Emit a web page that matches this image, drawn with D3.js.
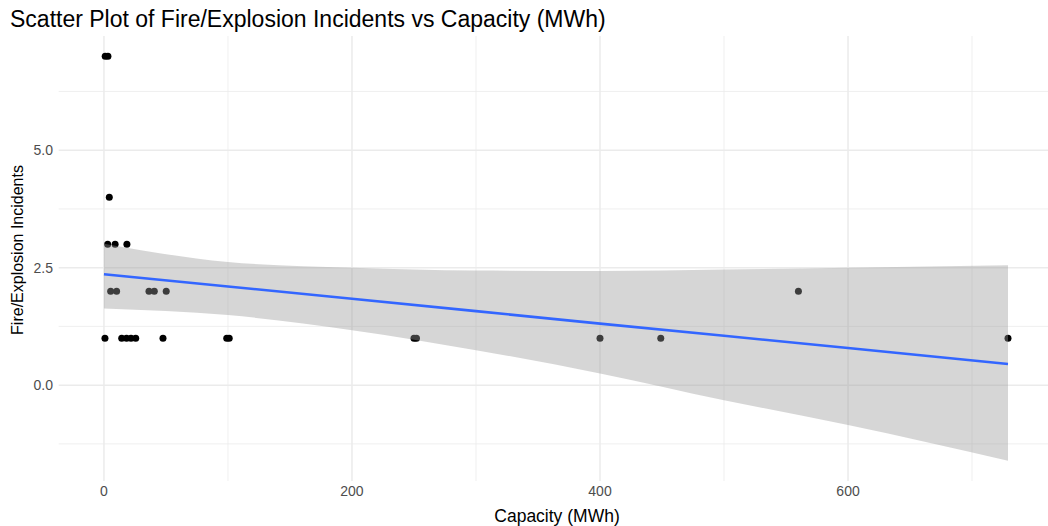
<!DOCTYPE html>
<html>
<head>
<meta charset="utf-8">
<script src="https://cdn.jsdelivr.net/npm/d3@7"></script>
<style>
  body { margin: 0; background: #fff; }
  text { font-family: "Liberation Sans", Arial, sans-serif; }
</style>
</head>
<body>
<div id="chart"></div>
<script>
// points
var capacity  = [1, 3.2, 4.3, 3, 9, 18.5, 5.4, 10.2, 36.3, 40.6, 50.2, 0.8, 14.3, 18.2, 21.8, 25.6, 47.6, 99, 101, 250, 252, 400, 449, 560, 729];
var incidents = [7, 7, 4, 3, 3, 3, 2, 2, 2, 2, 2, 1, 1, 1, 1, 1, 1, 1, 1, 1, 1, 1, 1, 2, 1];

// lm smoother and its 95% band, read at a few x
var smoothX    = [0, 100, 200, 300, 400, 500, 600, 729];
var smoothFit  = [2.36, 2.10, 1.84, 1.575, 1.31, 1.05, 0.79, 0.45];
var smoothLow  = [1.63, 1.49, 1.17, 0.745, 0.25, -0.32, -0.85, -1.61];
var smoothHigh = [3.01, 2.62, 2.50, 2.44, 2.43, 2.46, 2.50, 2.55];

var xMajor = [0, 200, 400, 600];
var xMinor = [100, 300, 500, 700];
var yMajor = [0, 2.5, 5];
var yMinor = [-1.25, 1.25, 3.75, 6.25];

var width = 1048, height = 526;

var svg = d3.select("#chart")
    .append("svg")
    .attr("width", width)
    .attr("height", height);

var x = d3.scaleLinear().domain([-36.5, 766.5]).range([58.7, 1054.5]);
var y = d3.scaleLinear().domain([-2.04, 7.43]).range([481, 36]);

var panel = svg.append("g");

// grid
panel.selectAll(".xminor").data(xMinor).enter().append("line")
    .attr("x1", function(d) { return x(d); }).attr("x2", function(d) { return x(d); })
    .attr("y1", y.range()[0]).attr("y2", y.range()[1])
    .attr("stroke", "#ebebeb").attr("stroke-width", 0.8);
panel.selectAll(".yminor").data(yMinor).enter().append("line")
    .attr("y1", function(d) { return y(d); }).attr("y2", function(d) { return y(d); })
    .attr("x1", x.range()[0]).attr("x2", x.range()[1])
    .attr("stroke", "#ebebeb").attr("stroke-width", 0.8);
panel.selectAll(".xmajor").data(xMajor).enter().append("line")
    .attr("x1", function(d) { return x(d); }).attr("x2", function(d) { return x(d); })
    .attr("y1", y.range()[0]).attr("y2", y.range()[1])
    .attr("stroke", "#ebebeb").attr("stroke-width", 1.5);
panel.selectAll(".ymajor").data(yMajor).enter().append("line")
    .attr("y1", function(d) { return y(d); }).attr("y2", function(d) { return y(d); })
    .attr("x1", x.range()[0]).attr("x2", x.range()[1])
    .attr("stroke", "#ebebeb").attr("stroke-width", 1.5);

// points (drawn under the ribbon, like ggplot)
panel.selectAll(".pt").data(capacity).enter().append("circle")
    .attr("cx", function(d) { return x(d); })
    .attr("cy", function(d, i) { return y(incidents[i]); })
    .attr("r", 3.5)
    .attr("fill", "#000");

// ribbon
var band = smoothX.map(function(d, i) {
    return { x: d, lo: smoothLow[i], hi: smoothHigh[i], fit: smoothFit[i] };
});

panel.append("path")
    .datum(band)
    .attr("d", d3.area()
        .x(function(d) { return x(d.x); })
        .y0(function(d) { return y(d.lo); })
        .y1(function(d) { return y(d.hi); })
        .curve(d3.curveMonotoneX))
    .attr("fill", "#999999")
    .attr("fill-opacity", 0.4);

panel.append("path")
    .datum(band)
    .attr("d", d3.line()
        .x(function(d) { return x(d.x); })
        .y(function(d) { return y(d.fit); }))
    .attr("fill", "none")
    .attr("stroke", "#3366FF")
    .attr("stroke-width", 2.6);

// tick labels
svg.selectAll(".xlab").data(xMajor).enter().append("text")
    .attr("x", function(d) { return x(d); })
    .attr("y", 496)
    .attr("text-anchor", "middle")
    .attr("font-size", 14)
    .attr("fill", "#4d4d4d")
    .text(function(d) { return d; });

svg.selectAll(".ylab").data(yMajor).enter().append("text")
    .attr("x", 53)
    .attr("y", function(d) { return y(d) + 5; })
    .attr("text-anchor", "end")
    .attr("font-size", 14)
    .attr("fill", "#4d4d4d")
    .text(function(d) { return d3.format(".1f")(d); });

// axis titles
svg.append("text")
    .attr("x", 557)
    .attr("y", 522)
    .attr("text-anchor", "middle")
    .attr("font-size", 17.5)
    .attr("fill", "#000")
    .text("Capacity (MWh)");

svg.append("text")
    .attr("transform", "translate(23,250) rotate(-90)")
    .attr("text-anchor", "middle")
    .attr("font-size", 16)
    .attr("fill", "#000")
    .text("Fire/Explosion Incidents");

// title
svg.append("text")
    .attr("x", 10)
    .attr("y", 27)
    .attr("font-size", 23)
    .attr("fill", "#000")
    .text("Scatter Plot of Fire/Explosion Incidents vs Capacity (MWh)");
</script>
</body>
</html>
